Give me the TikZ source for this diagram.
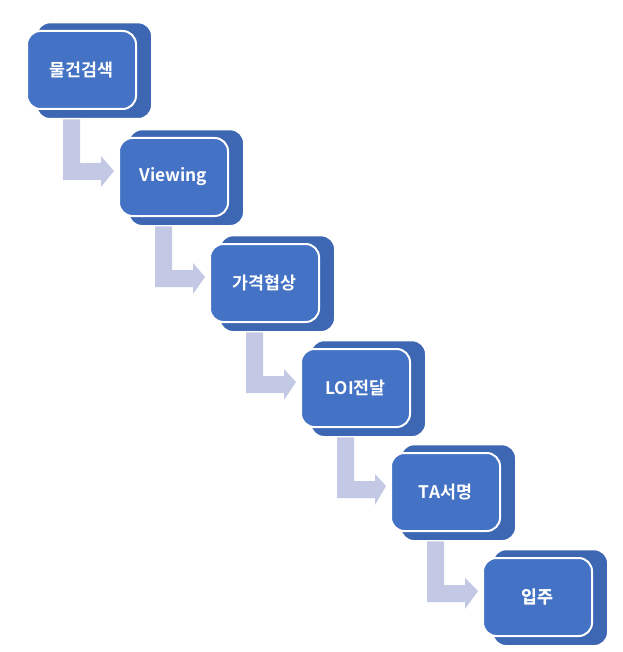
\documentclass[tikz,border=0pt]{standalone}
\usepackage{fontspec}
\newfontfamily\kr{Noto Sans CJK KR Bold}
\usetikzlibrary{calc}
\definecolor{front}{HTML}{4472C4}
\definecolor{back}{HTML}{3D66B3}
\definecolor{arr}{HTML}{C3C9E4}
\tikzset{
 backbox/.style={draw=white,line width=1pt,fill=back,rounded corners=10pt,minimum width=115pt*0.75,minimum height=96pt*0.75,anchor=north west,inner sep=0pt},
 frontbox/.style={draw=white,line width=1.5pt,fill=front,rounded corners=10pt,minimum width=109pt*0.75,minimum height=78pt*0.75,anchor=north west,inner sep=0pt,text=white,font=\kr\fontsize{13}{15}\selectfont}
}
\begin{document}
\begin{tikzpicture}[x=0.75pt,y=-0.75pt]
\useasboundingbox (0,0) rectangle (623,652);
\def\boxes{26/30/b1/물건검색,118/137/b2/Viewing,209/243/b3/가격협상,300/348/b4/LOI전달,390/452/b5/TA서명,482/557/b6/입주}
\foreach \x/\y/\n/\t in \boxes {
  \node[backbox] (\n bk) at (\x+10,\y-8) {};
  \node[frontbox] (\n) at (\x,\y) {\t};
}
\foreach \a/\b in {b1/b2,b2/b3,b3/b4,b4/b5,b5/b6}{
  \coordinate (o) at (\a.north west);
  \fill[arr] ($(o)+(37,78)$) -- ($(o)+(54,78)$) -- ($(o)+(54,133)$) -- ($(o)+(75,133)$) -- ($(o)+(75,126)$) -- ($(\b.west)+(-4,-6)$) -- ($(o)+(75,157)$) -- ($(o)+(75,150)$) -- ($(o)+(37,150)$) -- cycle;
  \node[backbox] at ($(\a.north west)+(10,-8)$) {};
  \node[frontbox] at (\a.north west) {};
}
\foreach \x/\y/\n/\t in \boxes {
  \node[frontbox,draw=none,fill=none] at (\x,\y) {\t};
}
\end{tikzpicture}
\end{document}
